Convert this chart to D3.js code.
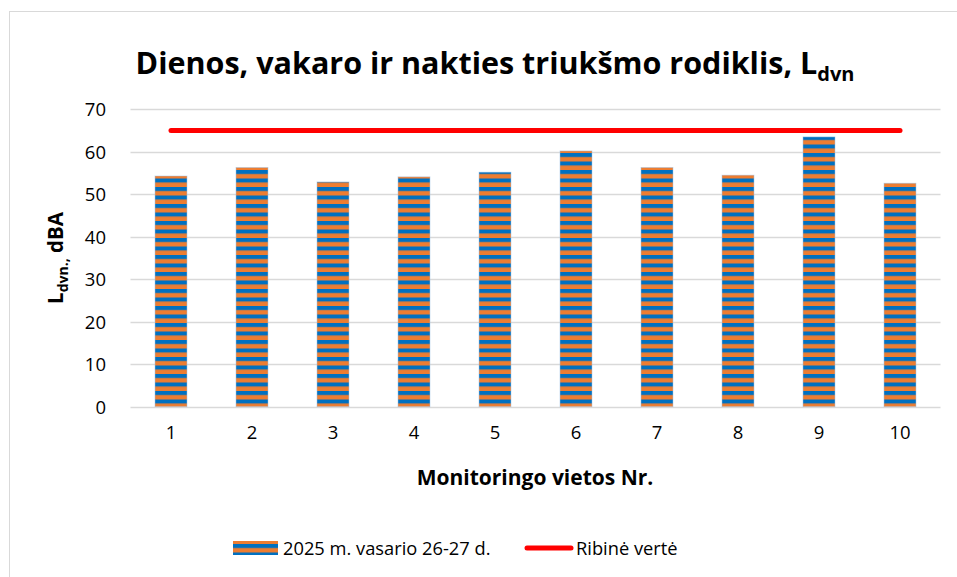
<!DOCTYPE html>
<html>
<head>
<meta charset="utf-8">
<script src="https://cdn.jsdelivr.net/npm/d3@7"></script>
<style>
  body { margin: 0; background: #fff; }
  text { font-family: "Open Sans", "Noto Sans", sans-serif; }
</style>
</head>
<body>
<script>
// duomenys
var vietos = ["1", "2", "3", "4", "5", "6", "7", "8", "9", "10"];
var ldvn = [54.3, 56.3, 52.9, 54.1, 55.2, 60.2, 56.3, 54.5, 63.5, 52.6];
var ribine = 65;
var yTicks = [0, 10, 20, 30, 40, 50, 60, 70];
var seriesName = "2025 m. vasario 26-27 d.";
var ribineName = "Ribinė vertė";

var W = 957, H = 577;
var svg = d3.select("body").append("svg")
    .attr("width", W)
    .attr("height", H);

// raštas stulpeliams
var defs = svg.append("defs");
var pat = defs.append("pattern")
    .attr("id", "stripes")
    .attr("patternUnits", "userSpaceOnUse")
    .attr("width", 8)
    .attr("height", 8.5);
pat.append("rect").attr("width", 8).attr("height", 8.5).attr("fill", "#ED7D31");
pat.append("rect").attr("width", 8).attr("height", 4).attr("fill", "#0070C0");

// rėmelis
svg.append("rect")
    .attr("x", 9.5).attr("y", 11.5)
    .attr("width", 980).attr("height", 600)
    .attr("fill", "none")
    .attr("stroke", "#d9d9d9");

var x = d3.scaleBand()
    .domain(vietos)
    .range([130.5, 940.5]);

var y = d3.scaleLinear()
    .domain([0, 70])
    .range([406.7, 109.3]);

// tinklelis
svg.append("g")
    .selectAll("line")
    .data(yTicks)
    .enter()
    .append("line")
    .attr("x1", 130.5)
    .attr("x2", 940.5)
    .attr("y1", d => Math.round(y(d)) + 0.5)
    .attr("y2", d => Math.round(y(d)) + 0.5)
    .attr("stroke", "#d9d9d9")
    .attr("stroke-width", 1.3);

// Y ašis
var yAxis = svg.append("g")
    .attr("transform", "translate(130,0)")
    .call(d3.axisLeft(y).tickValues(yTicks).tickSize(0).tickPadding(24));
yAxis.select(".domain").remove();
yAxis.selectAll("text")
    .attr("font-size", 18.5)
    .attr("fill", "#000")
    .attr("dy", "0.36em")
    .style("font-family", "'Open Sans', sans-serif");

// X ašis
var xAxis = svg.append("g")
    .attr("transform", "translate(0,407)")
    .call(d3.axisBottom(x).tickSize(0).tickPadding(19));
xAxis.select(".domain").remove();
xAxis.selectAll("text")
    .attr("font-size", 18.5)
    .attr("fill", "#000")
    .style("font-family", "'Open Sans', sans-serif");

// stulpeliai
var bw = 32;
svg.append("g")
    .selectAll("rect")
    .data(ldvn)
    .enter()
    .append("rect")
    .attr("x", (d, i) => x(vietos[i]) + x.bandwidth() / 2 - bw / 2)
    .attr("y", d => y(d))
    .attr("width", bw)
    .attr("height", d => y(0) - y(d))
    .attr("fill", "url(#stripes)")
    .attr("stroke", "#9fc3e6")
    .attr("stroke-opacity", 0.6)
    .attr("stroke-width", 0.8);

// ribinė vertė
var line = d3.line()
    .x(d => x(d) + x.bandwidth() / 2)
    .y(() => y(ribine));
svg.append("path")
    .datum(vietos)
    .attr("d", line)
    .attr("stroke", "#FF0000")
    .attr("stroke-width", 5)
    .attr("stroke-linecap", "round")
    .attr("fill", "none");

// pavadinimas
var title = svg.append("text")
    .attr("x", 495)
    .attr("y", 74)
    .attr("text-anchor", "middle")
    .attr("font-size", 30.5)
    .attr("font-weight", "bold")
    .attr("fill", "#000");
title.append("tspan").text("Dienos, vakaro ir nakties triukšmo rodiklis, L");
title.append("tspan").attr("font-size", 20).attr("dy", 7).text("dvn");

// Y ašies pavadinimas
var yt = svg.append("text")
    .attr("transform", "translate(63,258) rotate(-90)")
    .attr("text-anchor", "middle")
    .attr("font-size", 20.5)
    .attr("font-weight", "bold")
    .attr("fill", "#000");
yt.append("tspan").text("L");
yt.append("tspan").attr("font-size", 14).attr("dy", 5).text("dvn.,");
yt.append("tspan").attr("dy", -5).text(" dBA");

// X ašies pavadinimas
svg.append("text")
    .attr("x", 535)
    .attr("y", 485)
    .attr("text-anchor", "middle")
    .attr("font-size", 21)
    .attr("font-weight", "bold")
    .attr("fill", "#000")
    .text("Monitoringo vietos Nr.");

// legenda
var leg = svg.append("g");
leg.append("rect")
    .attr("x", 233).attr("y", 541)
    .attr("width", 45).attr("height", 14)
    .attr("fill", "url(#stripes)");
leg.append("text")
    .attr("x", 283).attr("y", 555)
    .attr("font-size", 18.3)
    .attr("fill", "#000")
    .text(seriesName);
leg.append("line")
    .attr("x1", 527).attr("x2", 571)
    .attr("y1", 548).attr("y2", 548)
    .attr("stroke", "#FF0000")
    .attr("stroke-width", 5)
    .attr("stroke-linecap", "round");
leg.append("text")
    .attr("x", 576).attr("y", 555)
    .attr("font-size", 18.3)
    .attr("fill", "#000")
    .text(ribineName);
</script>
</body>
</html>
